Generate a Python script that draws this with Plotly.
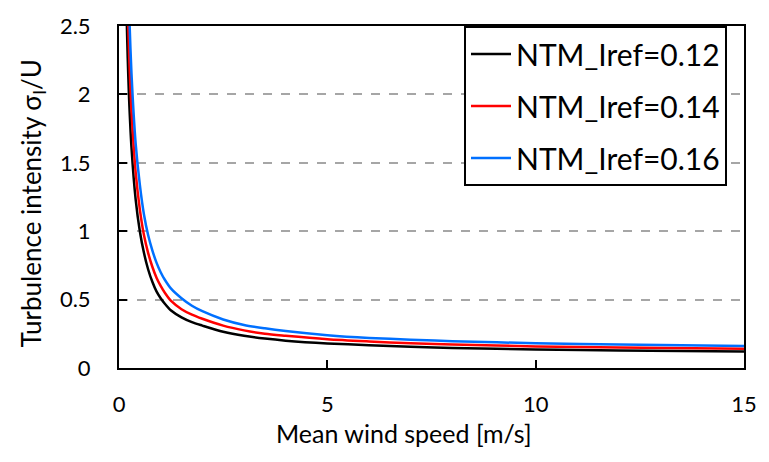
import plotly.graph_objects as go

# Mean wind speed [m/s]
wind_speed = [0.15, 0.18, 0.2, 0.22, 0.25, 0.3, 0.4, 0.5, 0.6, 0.7, 0.8, 0.9, 1.0, 1.1, 1.25, 1.5,
              1.75, 2.0, 2.5, 3.0, 3.5, 4.0, 5.0, 6.0, 7.0, 8.0, 10.0, 12.0, 15.0]

# Turbulence intensity
ti_012 = [3.13, 2.62, 2.37, 2.16, 1.91, 1.61, 1.23, 1.00, 0.84, 0.72, 0.63, 0.56, 0.51, 0.47, 0.42, 0.37,
          0.335, 0.31, 0.265, 0.235, 0.215, 0.20, 0.18, 0.167, 0.155, 0.147, 0.136, 0.128, 0.120]
ti_014 = [3.65, 3.06, 2.77, 2.52, 2.23, 1.88, 1.43, 1.16, 0.97, 0.84, 0.74, 0.66, 0.60, 0.55, 0.49, 0.43,
          0.39, 0.36, 0.31, 0.275, 0.25, 0.235, 0.21, 0.194, 0.181, 0.172, 0.158, 0.149, 0.140]
ti_016 = [4.17, 3.50, 3.16, 2.88, 2.55, 2.15, 1.64, 1.34, 1.12, 0.97, 0.86, 0.77, 0.70, 0.645, 0.58, 0.51,
          0.455, 0.415, 0.355, 0.315, 0.29, 0.27, 0.24, 0.22, 0.207, 0.196, 0.181, 0.171, 0.160]

series_names = ["NTM_Iref=0.12", "NTM_Iref=0.14", "NTM_Iref=0.16"]
series_values = [ti_012, ti_014, ti_016]
series_colors = ["#000000", "#ff0000", "#0070ff"]

y_ticks = [0, 0.5, 1, 1.5, 2, 2.5]
x_ticks = [0, 5, 10, 15]

FONT = "Lato"

fig = go.Figure()
for i, (name, vals, col) in enumerate(zip(series_names, series_values, series_colors)):
    fig.add_trace(go.Scatter(
        x=wind_speed, y=vals, mode="lines", name=name,
        line=dict(color=col, width=2.5, shape="spline", smoothing=0.8),
        legendgroup=f"g{i}",
    ))

fig.update_layout(
    width=769, height=462,
    margin=dict(l=119, r=20, t=15, b=94),
    paper_bgcolor="white", plot_bgcolor="white",
    font=dict(family=FONT, color="#000000"),
    showlegend=True,
    legend=dict(
        x=0.552, y=1.0, xanchor="left", yanchor="top",
        bgcolor="white", bordercolor="#000000", borderwidth=2,
        font=dict(family=FONT, size=30, color="#000000"),
        tracegroupgap=10,
        itemwidth=40,
    ),
    annotations=[
        dict(text="Mean wind speed [m/s]", xref="paper", yref="paper",
             x=(406 - 119) / 630, y=-0.14, xanchor="center", yanchor="top",
             showarrow=False, font=dict(family=FONT, size=25, color="#000000")),
        dict(text="Turbulence intensity σ<sub>I</sub>/U", xref="paper", yref="paper",
             x=(32 - 119) / 630, y=0.48, xanchor="center", yanchor="middle", textangle=-90,
             showarrow=False, font=dict(family=FONT, size=26, color="#000000")),
    ],
)

fig.update_xaxes(
    range=[0, 15], tickvals=x_ticks, ticktext=[str(v) for v in x_ticks],
    showgrid=False, zeroline=False,
    showline=True, linecolor="#000000", linewidth=2, mirror=True,
    ticks="inside", ticklen=8, tickwidth=2, tickcolor="#000000",
    tickfont=dict(family=FONT, size=22, color="#000000"),
    ticklabelstandoff=16,
)
fig.update_yaxes(
    range=[0, 2.5], tickvals=y_ticks, ticktext=["0", "0.5", "1", "1.5", "2", "2.5"],
    showgrid=True, gridcolor="#a6a6a6", gridwidth=1.5, griddash="dash",
    zeroline=False,
    showline=True, linecolor="#000000", linewidth=2, mirror=True,
    ticks="inside", ticklen=8, tickwidth=2, tickcolor="#000000",
    tickfont=dict(family=FONT, size=22, color="#000000"),
    ticklabelstandoff=22,
)

fig.write_html("out.html")
